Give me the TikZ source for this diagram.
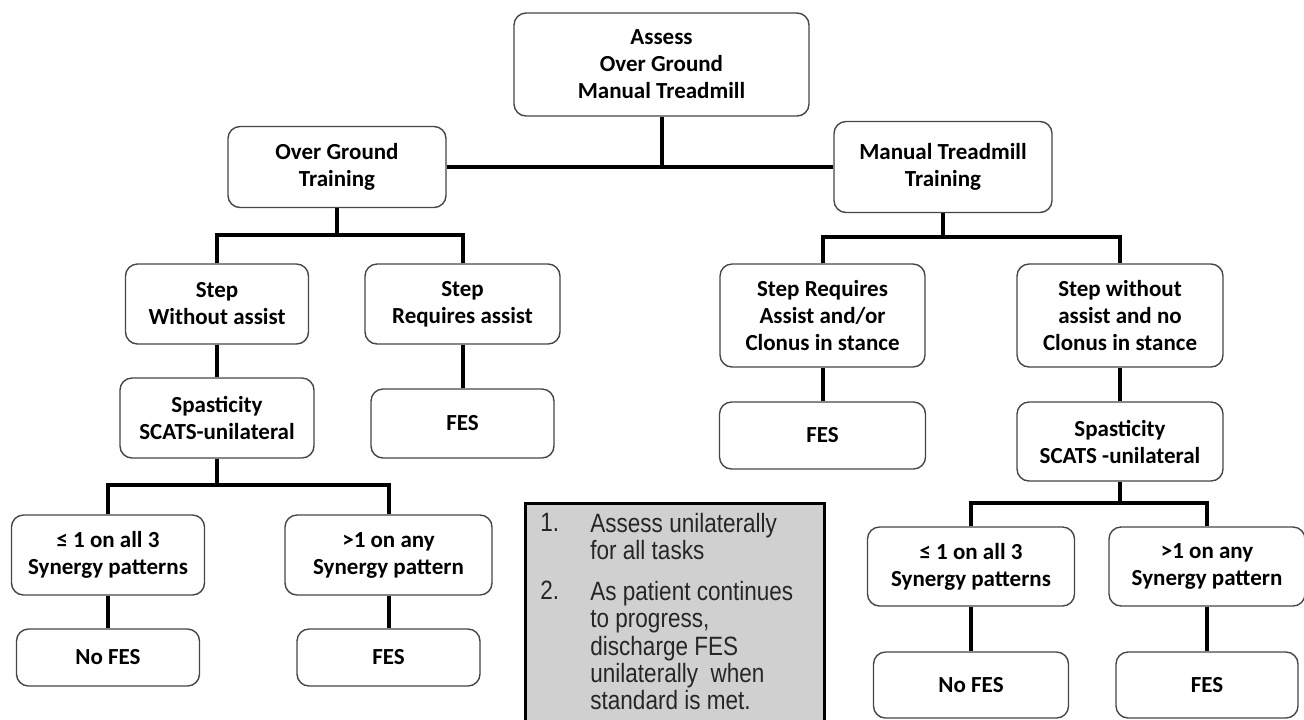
\documentclass[tikz,border=0pt]{standalone}
\usepackage{fontspec}
\setmainfont{Carlito}
\newfontfamily\notefont[FakeStretch=0.85]{Liberation Sans}
\definecolor{notegray}{RGB}{208,208,208}
\definecolor{edgegray}{RGB}{70,70,70}
\begin{document}
\begin{tikzpicture}[x=0.5pt,y=-0.5pt,
        box/.style 2 args={draw=edgegray,line width=0.7pt,rounded corners=6pt,fill=white,align=center,inner sep=0pt,
            minimum width=#1,minimum height=#2,font=\bfseries\fontsize{11.5}{13.5}\selectfont},
        link/.style={line width=2pt},
        notetext/.style={anchor=north west,inner sep=0pt,align=left,text=black!85,
            font=\notefont\fontsize{13.25}{13.65}\selectfont}]
        \useasboundingbox (0,0) rectangle (1304,719);
        \node[box={147.5pt}{51.5pt}] (assess) at (661.5,64.5) {Assess\\Over Ground\\Manual Treadmill};
        \node[box={109pt}{40.5pt}] (ogt) at (337,167) {Over Ground\\Training};
        \node[box={109pt}{45.5pt}] (mtt) at (943,167) {Manual Treadmill\\Training};
        \node[box={91.5pt}{40pt}] (sw) at (217,304) {Step\\Without assist};
        \node[box={97.5pt}{40pt}] (sr) at (462.5,304) {Step\\Requires assist};
        \node[box={97pt}{40pt}] (spL) at (217,418) {Spasticity\\SCATS-unilateral};
        \node[box={91.5pt}{34.5pt}] (fesL) at (462.5,423.5) {FES};
        \node[box={96.5pt}{40pt}] (leL) at (108,555) {≤ 1 on all 3\\Synergy patterns};
        \node[box={103.5pt}{40pt}] (gtL) at (388.5,555) {>1 on any\\Synergy pattern};
        \node[box={91.5pt}{28.5pt}] (noL) at (108,657.5) {No FES};
        \node[box={91.5pt}{28.5pt}] (feL) at (388.5,657.5) {FES};
        \node[box={102.5pt}{51.5pt}] (sra) at (822.5,315.5) {Step Requires\\Assist and/or\\Clonus in stance};
        \node[box={103pt}{51.5pt}] (swn) at (1120,315.5) {Step without\\assist and no\\Clonus in stance};
        \node[box={103pt}{33.5pt}] (fesR) at (822.5,435.5) {FES};
        \node[box={103pt}{39.5pt}] (spR) at (1120,441.5) {Spasticity\\SCATS -unilateral};
        \node[box={103.5pt}{39.5pt}] (leR) at (971,566.5) {≤ 1 on all 3\\Synergy patterns};
        \node[box={98pt}{39.5pt}] (gtR) at (1207,566.5) {>1 on any\\Synergy pattern};
        \node[box={97.5pt}{33pt}] (noR) at (971,685) {No FES};
        \node[box={91pt}{33pt}] (feR) at (1207,685) {FES};
        \coordinate (jOG) at (337,235);
        \coordinate (jSL) at (217,485);
        \coordinate (jMT) at (943,237);
        \coordinate (jSR) at (1120,503);
        \draw[link] (assess) -- (assess |- ogt);
        \draw[link] (ogt) -- (mtt);
        \draw[link] (ogt) -- (jOG);
        \draw[link] (sw) |- (jOG) -| (sr);
        \draw[link] (sw) -- (spL);
        \draw[link] (sr) -- (fesL);
        \draw[link] (spL) -- (jSL);
        \draw[link] (leL) |- (jSL) -| (gtL);
        \draw[link] (leL) -- (noL);
        \draw[link] (gtL) -- (feL);
        \draw[link] (mtt) -- (jMT);
        \draw[link] (sra) |- (jMT) -| (swn);
        \draw[link] (sra) -- (fesR);
        \draw[link] (swn) -- (spR);
        \draw[link] (spR) -- (jSR);
        \draw[link] (leR) |- (jSR) -| (gtR);
        \draw[link] (leR) -- (noR);
        \draw[link] (gtR) -- (feR);
        \node[draw,line width=1.5pt,fill=notegray,anchor=north west,minimum width=149.5pt,minimum height=115pt] (notes) at (524,502) {};
        \node[notetext] (k1) at (540,513) {1.};
        \node[notetext] (t1) at (590,513) {Assess unilaterally\\for all tasks};
        \node[notetext] (k2) at (540,581) {2.};
        \node[notetext] (t2) at (590,581) {As patient continues\\to progress,\\discharge FES\\unilaterally\ \ when\\standard is met.};
    \end{tikzpicture}
\end{document}
